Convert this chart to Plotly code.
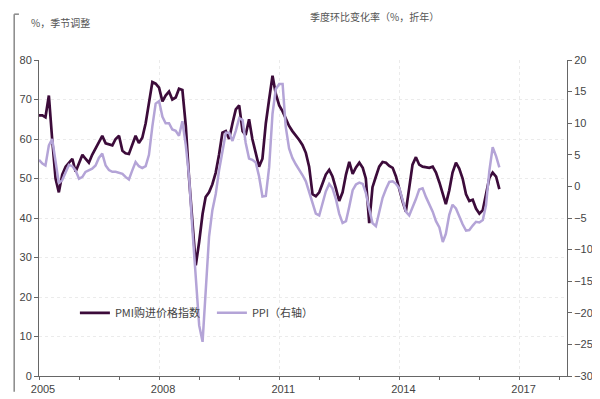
import plotly.graph_objects as go

start_year = 2005
pmi_input_price = [
    66, 66, 65.5, 71, 60, 50, 46.5, 51, 53, 54, 55, 51.7,
    54, 56, 55, 54, 56, 57.6, 59, 60.8, 58.9, 58.6, 58.4, 60,
    60.8, 57, 56.4, 56.2, 58.5, 60.8, 59, 60.3, 64, 69.5, 74.4, 74,
    73, 69.5, 71, 72, 70, 70.5, 72.7, 72.4, 63.3, 50, 39, 28,
    34, 41, 45.3, 46.5, 48.5, 51.5, 56, 61.6, 62, 60, 64, 67.5,
    68.5, 62, 61, 65, 60, 56, 53, 55, 64, 70, 76, 71.4,
    68.5, 67, 65, 63.3, 62, 61, 59.8, 58.5, 56.5, 53, 46, 45.5,
    46.5, 48.8, 51, 52.2, 50.5, 47.5, 44.3, 46.5, 51, 54.2, 51.2, 52.8,
    54, 52.7, 50, 38.7, 47.8, 50.5, 53, 54.2, 54, 53.2, 52.7, 50.5,
    47, 44, 41.6, 48, 53.5, 55.4, 53.5, 53, 52.8, 52.7, 53, 51.5,
    49, 46, 43.5, 47, 51.5, 54, 52.5, 50, 46, 44.3, 44.6, 42.4,
    41.1, 42, 46, 50.2, 51.5, 50.5, 47.3,
]
ppi_qoq_annualized = [
    4.2, 3.6, 3.3, 6.5, 7.5, 3.5, 0.5, 1.0, 2.2, 3.4, 3.2, 2.5,
    1.2, 1.5, 2.3, 2.5, 2.8, 3.3, 4.5, 5.2, 3.3, 2.6, 2.3, 2.3,
    2.2, 2.0, 1.5, 1.1, 2.5, 3.85, 3.2, 2.9, 3.2, 5.0, 9.5, 13.1,
    13.5, 11.0, 10.0, 10.0, 9.0, 8.8, 8.0, 10.3, 6.5, 1.5, -7, -15,
    -22, -24.6, -16, -8, -3.8, -1.2, 2.5, 5.4, 8.5, 8.5, 7.2, 8.8,
    10.8, 10.5, 6.9, 4.4, 4.2, 3.8, 1.6, -1.6, -1.5, 3.0, 11.5, 15.4,
    16.2, 16.2, 9.5, 6.0, 4.5, 3.5, 2.7, 1.8, 0.8, -0.8, -2.8, -4.3,
    -4.6, -2.8, -0.8, 0.4, -0.3, -2.0, -4.3, -5.8, -5.5, -3.2, -0.6, 0.3,
    0.6, 0.4, -1.0, -3.6, -5.8, -6.3, -4.3, -1.8, -0.4, 0.7, 0.8, 0.4,
    -0.3, -2.3, -4.0, -4.6, -3.4, -2.0, -0.5, -0.3, -1.7, -2.8, -4.0, -5.5,
    -6.5, -8.8, -7.5, -4.5, -2.9, -3.5, -4.8, -6.0, -7.0, -6.9, -6.2, -5.6,
    -5.7, -5.3, -3.0, 2.5, 6.2, 4.8, 3.0,
]
months = [f"{start_year + i // 12}-{i % 12 + 1:02d}-01" for i in range(len(pmi_input_price))]
tick_years = ["2005", "2008", "2011", "2014", "2017"]
left_label = "%，季节调整"
right_label = "季度环比变化率（%，折年）"
pmi_name = "PMI购进价格指数"
ppi_name = "PPI（右轴）"

FONT = "Liberation Sans, Noto Sans CJK SC, sans-serif"
CJK = "Noto Sans CJK SC, sans-serif"
GRID = "#ebebeb"

fig = go.Figure()
fig.add_trace(go.Scatter(x=months, y=ppi_qoq_annualized, name=ppi_name, mode="lines",
                         line=dict(color="#b4a4d7", width=2.5), yaxis="y2"))
fig.add_trace(go.Scatter(x=months, y=pmi_input_price, name=pmi_name, mode="lines",
                         line=dict(color="#3c0b3a", width=2.7)))

fig.update_layout(
    width=600, height=399,
    margin=dict(l=31, r=41, t=52, b=22),
    paper_bgcolor="white", plot_bgcolor="white",
    font=dict(family=FONT, size=11, color="#444"),
    showlegend=True,
    legend=dict(orientation="h", x=0.068, y=0.2, xanchor="left", yanchor="middle",
                bgcolor="rgba(0,0,0,0)", font=dict(family=CJK, size=11, color="#444"),
                traceorder="reversed", itemwidth=30, entrywidth=92),
    xaxis=dict(
        type="date",
        range=["2005-01-01", "2018-03-10"],
        tickvals=[f"{y}-01-01" for y in tick_years],
        ticktext=tick_years,
        ticks="outside", ticklen=3, tickcolor="#666",
        ticklabelshift=4,
        showline=True, linecolor="#666", linewidth=1,
        showgrid=True, gridcolor=GRID, griddash="dot", gridwidth=1,
        minor=dict(dtick="M12", ticks="outside", ticklen=3, tickcolor="#666", showgrid=False),
        zeroline=False,
    ),
    yaxis=dict(
        range=[0, 80], dtick=10,
        ticks="outside", ticklen=4, tickcolor="#666",
        showline=True, linecolor="#666", linewidth=1,
        showgrid=True, gridcolor=GRID, griddash="dot", gridwidth=1,
        zeroline=False,
    ),
    yaxis2=dict(
        range=[-30, 20], dtick=5, overlaying="y", side="right",
        ticks="outside", ticklen=4, tickcolor="#666",
        showline=True, linecolor="#666", linewidth=1,
        showgrid=False, zeroline=False,
    ),
    annotations=[
        dict(text=left_label, xref="paper", yref="paper", x=-0.019, y=1.12,
             xanchor="left", yanchor="middle", showarrow=False,
             font=dict(family=CJK, size=10, color="#555")),
        dict(text=right_label, xref="paper", yref="paper", x=0.509, y=1.137,
             xanchor="left", yanchor="middle", showarrow=False,
             font=dict(family=CJK, size=10, color="#555")),
    ],
    shapes=[
        dict(type="line", xref="paper", yref="paper", x0=-0.047, x1=-0.047, y0=-0.05, y1=1.145,
             line=dict(color="#888", width=1.5)),
        dict(type="line", xref="paper", yref="paper", x0=-0.047, x1=-0.038, y0=1.145, y1=1.145,
             line=dict(color="#888", width=1.5)),
    ],
)

fig.write_html("out.html")
